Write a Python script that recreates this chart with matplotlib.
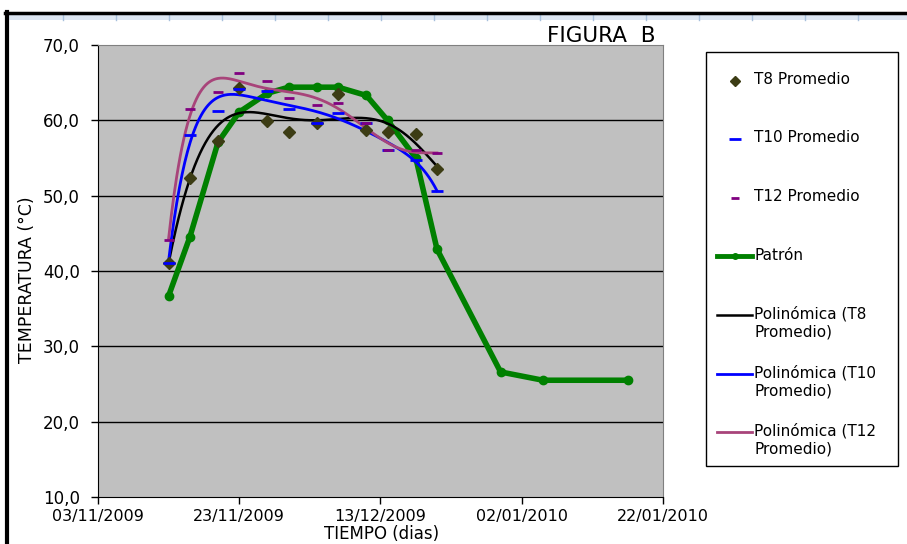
import numpy as np
import matplotlib
matplotlib.use("Agg")
import matplotlib.pyplot as plt
import matplotlib.dates as mdates
from matplotlib.lines import Line2D
from matplotlib.patches import Rectangle
from matplotlib.ticker import FuncFormatter
from datetime import datetime

plt.rcParams['font.family'] = ['DejaVu Sans']

# fechas de las mediciones de los tratamientos
fechas_t = ["2009-11-13", "2009-11-16", "2009-11-20", "2009-11-23", "2009-11-27", "2009-11-30",
            "2009-12-04", "2009-12-07", "2009-12-11", "2009-12-14", "2009-12-18", "2009-12-21"]
t8_promedio = [41.1, 52.4, 57.3, 64.3, 59.9, 58.5, 59.6, 63.5, 58.7, 58.5, 58.2, 53.5]
t10_promedio = [41.1, 58.0, 61.2, 64.1, 63.9, 61.5, 59.7, 61.0, 59.6, 56.0, 54.8, 50.6]
t12_promedio = [44.1, 61.5, 63.7, 66.3, 65.2, 62.9, 62.1, 62.3, 59.6, 56.1, 56.1, 55.6]

# curva patron
fechas_patron = ["2009-11-13", "2009-11-16", "2009-11-20", "2009-11-23", "2009-11-27", "2009-11-30",
                 "2009-12-04", "2009-12-07", "2009-12-11", "2009-12-14", "2009-12-18", "2009-12-21",
                 "2009-12-30", "2010-01-05", "2010-01-17"]
patron = [36.7, 44.5, 57.1, 61.1, 63.6, 64.4, 64.4, 64.4, 63.3, 60.0, 55.0, 42.9, 26.6, 25.5, 25.5]

x_ticks = ["2009-11-03", "2009-11-23", "2009-12-13", "2010-01-02", "2010-01-22"]
y_ticks = [10, 20, 30, 40, 50, 60, 70]


def to_num(fechas):
    return mdates.date2num([datetime.strptime(f, "%Y-%m-%d") for f in fechas])


xt = to_num(fechas_t)
xp = to_num(fechas_patron)
xticks = to_num(x_ticks)

W, H = 907, 544


def fx(px):
    return px / W


def fy(py):
    return 1 - py / H


fig = plt.figure(figsize=(W / 100, H / 100), dpi=100)
ax = fig.add_axes([fx(98), fy(497), fx(663 - 98), (497 - 45) / H])
ax.set_facecolor('#C0C0C0')

for y in y_ticks[1:-1]:
    ax.axhline(y, color='black', lw=1.0, zorder=1)


def poly_trend(x, y, deg=6):
    # linea de tendencia polinomica como la de Excel
    x0 = x[0]
    coef = np.polyfit(x - x0, y, deg)
    xs = np.linspace(x[0], x[-1], 300)
    return xs, np.polyval(coef, xs - x0)


c_t8 = '#3C3C14'
c_t10 = '#0000FF'
c_t12 = '#800080'
c_pol12 = '#A8447A'
c_patron = '#008000'

ax.plot(xp, patron, color=c_patron, lw=4, marker='o', ms=6, zorder=3)
xs, ys = poly_trend(xt, t8_promedio)
ax.plot(xs, ys, color='black', lw=1.8, zorder=4)
xs, ys = poly_trend(xt, t10_promedio)
ax.plot(xs, ys, color=c_t10, lw=2, zorder=4)
xs, ys = poly_trend(xt, t12_promedio)
ax.plot(xs, ys, color=c_pol12, lw=2, zorder=4)
ax.plot(xt, t8_promedio, ls='none', marker='D', ms=6, color=c_t8, zorder=5)
ax.plot(xt, t10_promedio, ls='none', marker='_', ms=9, mew=2, color=c_t10, zorder=5)
ax.plot(xt, t12_promedio, ls='none', marker='_', ms=7, mew=2, color=c_t12, zorder=5)

ax.set_xlim(xticks[0], xticks[-1])
ax.set_ylim(10, 70)
ax.set_xticks(xticks)
ax.set_xticklabels([datetime.strptime(f, "%Y-%m-%d").strftime("%d/%m/%Y") for f in x_ticks])
ax.set_yticks(y_ticks)
ax.yaxis.set_major_formatter(FuncFormatter(lambda v, p: f"{v:.1f}".replace('.', ',')))
ax.tick_params(direction='out', length=5, width=1, labelsize=12, colors='black')
ax.tick_params(axis='y', pad=8)
ax.tick_params(axis='x', labelsize=11.5, pad=4)
for s in ['top', 'right']:
    ax.spines[s].set_color('#808080')
for s in ['left', 'bottom']:
    ax.spines[s].set_color('black')

fig.text(fx(27), fy(280), 'TEMPERATURA (°C)', rotation=90, ha='center', va='center', fontsize=12.5)
fig.text(fx(382), fy(543), 'TIEMPO (dias)', ha='center', va='bottom', fontsize=12)
fig.text(fx(601), fy(46), 'FIGURA  B', ha='center', va='bottom', fontsize=15.5)

# leyenda
leyenda = [
    ('T8 Promedio', dict(ls='none', marker='D', ms=5, color=c_t8)),
    ('T10 Promedio', dict(ls='none', marker='_', ms=8, mew=2, color=c_t10)),
    ('T12 Promedio', dict(ls='none', marker='_', ms=6, mew=2, color=c_t12)),
    ('Patrón', dict(color=c_patron, lw=3.5, marker='o', ms=4, markevery=[1])),
    ('Polinómica (T8\nPromedio)', dict(color='black', lw=1.8)),
    ('Polinómica (T10\nPromedio)', dict(color=c_t10, lw=2)),
    ('Polinómica (T12\nPromedio)', dict(color=c_pol12, lw=2)),
]
fig.add_artist(Rectangle((fx(706), fy(466)), fx(898 - 706), (466 - 52) / H, transform=fig.transFigure,
                         facecolor='white', edgecolor='black', lw=1))
for i, (txt, estilo) in enumerate(leyenda):
    yl = 81 + 58.5 * i
    if estilo.get('ls') == 'none':
        fig.add_artist(Line2D([fx(735)], [fy(yl)], transform=fig.transFigure, **estilo))
    else:
        fig.add_artist(Line2D([fx(717), fx(735), fx(752)], [fy(yl)] * 3, transform=fig.transFigure, **estilo))
    fig.text(fx(754), fy(yl - 9), txt, ha='left', va='top', fontsize=11, linespacing=1.25)

# marco de la hoja de calculo
fig.add_artist(Rectangle((fx(8), fy(20)), 1, 6 / H, transform=fig.transFigure,
                         facecolor='#DCE6F2', edgecolor='none'))
for xc in range(63, W, 53):
    fig.add_artist(Line2D([fx(xc), fx(xc)], [fy(20), fy(14)], transform=fig.transFigure,
                          color='#A8C0DC', lw=1))
fig.add_artist(Line2D([fx(5), 1], [fy(13), fy(13)], transform=fig.transFigure,
                      color='black', lw=2.5))
fig.add_artist(Line2D([fx(7), fx(7)], [0, fy(12)], transform=fig.transFigure,
                      color='black', lw=3))

fig.savefig('out.png', dpi=100)
